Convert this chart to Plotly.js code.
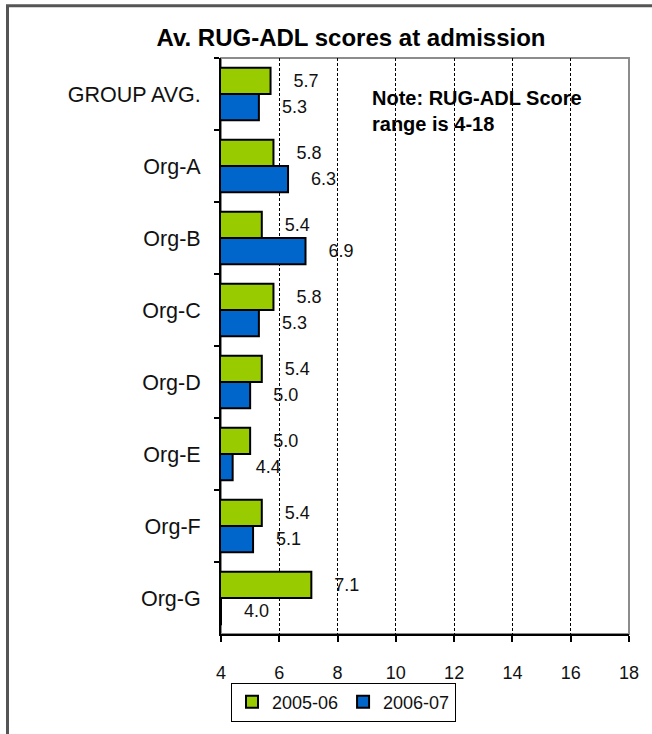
<!DOCTYPE html>
<html>
<head>
<meta charset="utf-8">
<script src="https://cdn.plot.ly/plotly-3.0.1.min.js"></script>
<style>
  html, body { margin: 0; padding: 0; background: #fff; }
  #chart { width: 652px; height: 734px; }
</style>
</head>
<body>
<div id="chart"></div>
<script>
const categories = ["GROUP AVG.", "Org-A", "Org-B", "Org-C", "Org-D", "Org-E", "Org-F", "Org-G"];
const series2005 = [5.7, 5.8, 5.4, 5.8, 5.4, 5.0, 5.4, 7.1];
const series2006 = [5.3, 6.3, 6.9, 5.3, 5.0, 4.4, 5.1, 4.0];
const seriesNames = ["2005-06", "2006-07"];
const xTicks = [4, 6, 8, 10, 12, 14, 16, 18];
const titleText = "Av. RUG-ADL scores at admission";
const noteText = "Note: RUG-ADL Score<br>range is 4-18";

const FONT = "Liberation Sans, Arial, sans-serif";
const TXT = "#111";
const W = 652, H = 734;
const M = { l: 221, r: 23, t: 58, b: 96 };
const PW = W - M.l - M.r, PH = H - M.t - M.b;
const px = x => (x - M.l) / PW;
const py = y => 1 - (y - M.t) / PH;

const pad = "\u00a0\u00a0\u00a0\u00a0";
function barTrace(vals, name, color) {
  return {
    type: "bar",
    orientation: "h",
    y: categories,
    x: vals,
    name: name,
    marker: { color: color, line: { color: "#000", width: 2 } },
    text: vals.map(v => pad + v.toFixed(1)),
    textposition: "outside",
    constraintext: "none",
    cliponaxis: true,
    outsidetextfont: { family: FONT, size: 18, color: TXT },
    hoverinfo: "x+y+name"
  };
}

const data = [
  barTrace(series2005, seriesNames[0], "#99CC00"),
  barTrace(series2006, seriesNames[1], "#0066CC")
];

const layout = {
  width: W, height: H,
  margin: M,
  paper_bgcolor: "#fff",
  plot_bgcolor: "#fff",
  font: { family: FONT, color: TXT },
  barmode: "group",
  bargap: 0.27,
  bargroupgap: 0,
  title: {
    text: "<b>" + titleText + "</b>",
    font: { family: FONT, size: 24, color: "#000" },
    xref: "container", yref: "container",
    x: 351 / W, xanchor: "center",
    y: 1 - 38 / H, yanchor: "middle"
  },
  xaxis: {
    range: [4, 18],
    tickvals: xTicks,
    ticktext: xTicks.map(String),
    showgrid: true,
    gridcolor: "#000",
    gridwidth: 1,
    griddash: "3px,2px",
    zeroline: false,
    showline: true,
    linecolor: "#000",
    linewidth: 2,
    ticks: "outside",
    ticklen: 6,
    tickwidth: 1.5,
    tickcolor: "#000",
    ticklabelstandoff: 15,
    tickfont: { family: FONT, size: 18, color: TXT },
    fixedrange: true
  },
  yaxis: {
    type: "category",
    autorange: "reversed",
    showgrid: false,
    zeroline: false,
    showline: true,
    linecolor: "#000",
    linewidth: 2,
    ticks: "outside",
    tickson: "boundaries",
    ticklen: 5,
    tickwidth: 1.5,
    tickcolor: "#000",
    ticklabelstandoff: 14,
    tickfont: { family: FONT, size: 21.5, color: TXT },
    fixedrange: true
  },
  showlegend: true,
  legend: {
    orientation: "h",
    x: px(343.5), xanchor: "center",
    y: py(687), yanchor: "top",
    bordercolor: "#000",
    borderwidth: 1,
    bgcolor: "#fff",
    font: { family: FONT, size: 18, color: TXT },
    itemclick: false,
    itemdoubleclick: false
  },
  annotations: [{
    text: "<b>" + noteText + "</b>",
    xref: "paper", yref: "paper",
    x: px(370), xanchor: "left",
    y: py(111), yanchor: "middle",
    align: "left",
    showarrow: false,
    font: { family: FONT, size: 20, color: "#000" }
  }],
  shapes: [
    { type: "rect", xref: "paper", yref: "paper", x0: 0, x1: 1, y0: 0, y1: 1,
      line: { color: "#8c8c8c", width: 2 }, layer: "below" },
    { type: "line", xref: "paper", yref: "paper",
      x0: px(7.5), x1: px(7.5), y0: py(5), y1: py(H + 10),
      line: { color: "#555", width: 3 } },
    { type: "line", xref: "paper", yref: "paper",
      x0: px(6), x1: px(W + 10), y0: py(5.5), y1: py(5.5),
      line: { color: "#555", width: 3 } }
  ]
};

Plotly.newPlot("chart", data, layout, { displayModeBar: false });
</script>
</body>
</html>
